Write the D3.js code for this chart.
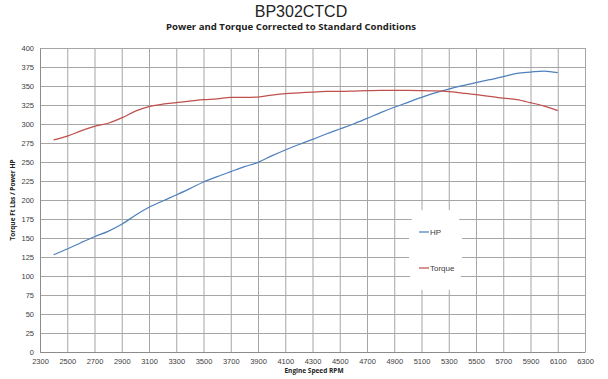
<!DOCTYPE html>
<html><head><meta charset="utf-8">
<script src="https://cdn.jsdelivr.net/npm/d3@7"></script>
<style>body{margin:0;background:#fff}svg{display:block}</style>
</head><body>
<svg id="c" width="608" height="379"></svg>
<script>
const rpm = [2400,2500,2600,2700,2800,2900,3000,3100,3200,3300,3400,3500,3600,3700,3800,3900,4000,4100,4200,4300,4400,4500,4600,4700,4800,4900,5000,5100,5200,5300,5400,5500,5600,5700,5800,5900,6000,6100];
const hp = [128,135.5,143.8,151.7,158.8,168,180,190.4,198.7,206.6,215,223.7,230.7,237.3,243.8,249.6,258,265.8,273,279.8,286.8,293.4,300,307.4,315,322,328.5,335,341,346,350.4,354.4,358.3,362.3,366.7,368.4,369.7,367.5];
const torque = [279,284,291,297,301,308,317,323,326,328,330,332,333,335,335,335.5,338,340,341,342,343,343,343.4,344,344.3,344.3,344.3,344,343.5,342.5,340.7,338.8,336.5,334,332,328,323.5,317.5];
const xTicks = [2300,2500,2700,2900,3100,3300,3500,3700,3900,4100,4300,4500,4700,4900,5100,5300,5500,5700,5900,6100,6300];
const yTicks = [0,25,50,75,100,125,150,175,200,225,250,275,300,325,350,375,400];
const seriesNames = ["HP","Torque"];
const colors = ["#4f81bd","#c0504d"];

const svg = d3.select("#c");
const L=40,R=585,T=48,B=352;
const x = d3.scaleLinear().domain([2300,6300]).range([L,R]);
const y = d3.scaleLinear().domain([0,400]).range([B,T]);
const grid="#a6a6a6", font="'Liberation Sans', Arial, sans-serif";

// gridlines
svg.append("g").selectAll("line").data(yTicks).join("line")
  .attr("x1",L).attr("x2",R).attr("y1",d=>y(d)+0.5).attr("y2",d=>y(d)+0.5)
  .attr("stroke",grid).attr("stroke-width",1);
svg.append("g").selectAll("line").data(xTicks).join("line")
  .attr("y1",T).attr("y2",B).attr("x1",d=>x(d)+0.5).attr("x2",d=>x(d)+0.5)
  .attr("stroke",grid).attr("stroke-width",1);

// axes
const ax = svg.append("g").attr("transform",`translate(0,${B})`)
  .call(d3.axisBottom(x).tickValues(xTicks).tickSize(0).tickPadding(7).tickFormat(d3.format("d")));
const ay = svg.append("g").attr("transform",`translate(${L},0)`)
  .call(d3.axisLeft(y).tickValues(yTicks).tickSize(0).tickPadding(6));
[ax,ay].forEach(a=>{
  a.select(".domain").attr("stroke","#8c8c8c");
  a.selectAll("text").attr("font-family",font).attr("font-size","7.5px").attr("fill","#404040");
});

// lines
const line = d3.line().x((d,i)=>x(rpm[i])).y(d=>y(d)).curve(d3.curveMonotoneX);
[hp,torque].forEach((s,k)=>{
  svg.append("path").datum(s).attr("d",line).attr("fill","none")
    .attr("stroke",colors[k]).attr("stroke-width",1.25);
});

// legend
svg.append("rect").attr("x",409).attr("y",208).attr("width",53).attr("height",84)
  .attr("rx",22).attr("fill","#fff");
seriesNames.forEach((n,i)=>{
  const ly = 232 + i*36;
  svg.append("line").attr("x1",419).attr("x2",429).attr("y1",ly).attr("y2",ly)
    .attr("stroke",colors[i]).attr("stroke-width",1.25);
  svg.append("text").attr("x",430).attr("y",ly+3).text(n)
    .attr("font-family",font).attr("font-size","8px").attr("fill","#404040");
});

// titles
svg.append("text").attr("x",301).attr("y",17).attr("text-anchor","middle")
  .attr("font-family",font).attr("font-size","16px").attr("fill","#222").text("BP302CTCD");
svg.append("text").attr("x",291).attr("y",30).attr("text-anchor","middle")
  .attr("font-family","'Open Sans', sans-serif").attr("font-weight","bold").attr("font-size","8.2px")
  .attr("textLength",250).attr("lengthAdjust","spacingAndGlyphs")
  .attr("fill","#222").text("Power and Torque Corrected to Standard Conditions");
svg.append("text").attr("x",314).attr("y",373).attr("text-anchor","middle")
  .attr("font-family","'Open Sans', sans-serif").attr("font-weight","bold").attr("font-size","6.5px")
  .attr("fill","#222").text("Engine Speed RPM");
svg.append("text").attr("transform","translate(15,200) rotate(-90)").attr("text-anchor","middle")
  .attr("font-family","'Open Sans', sans-serif").attr("font-weight","bold").attr("font-size","6.5px")
  .attr("fill","#222").text("Torque Ft Lbs / Power HP");
</script>
</body></html>
